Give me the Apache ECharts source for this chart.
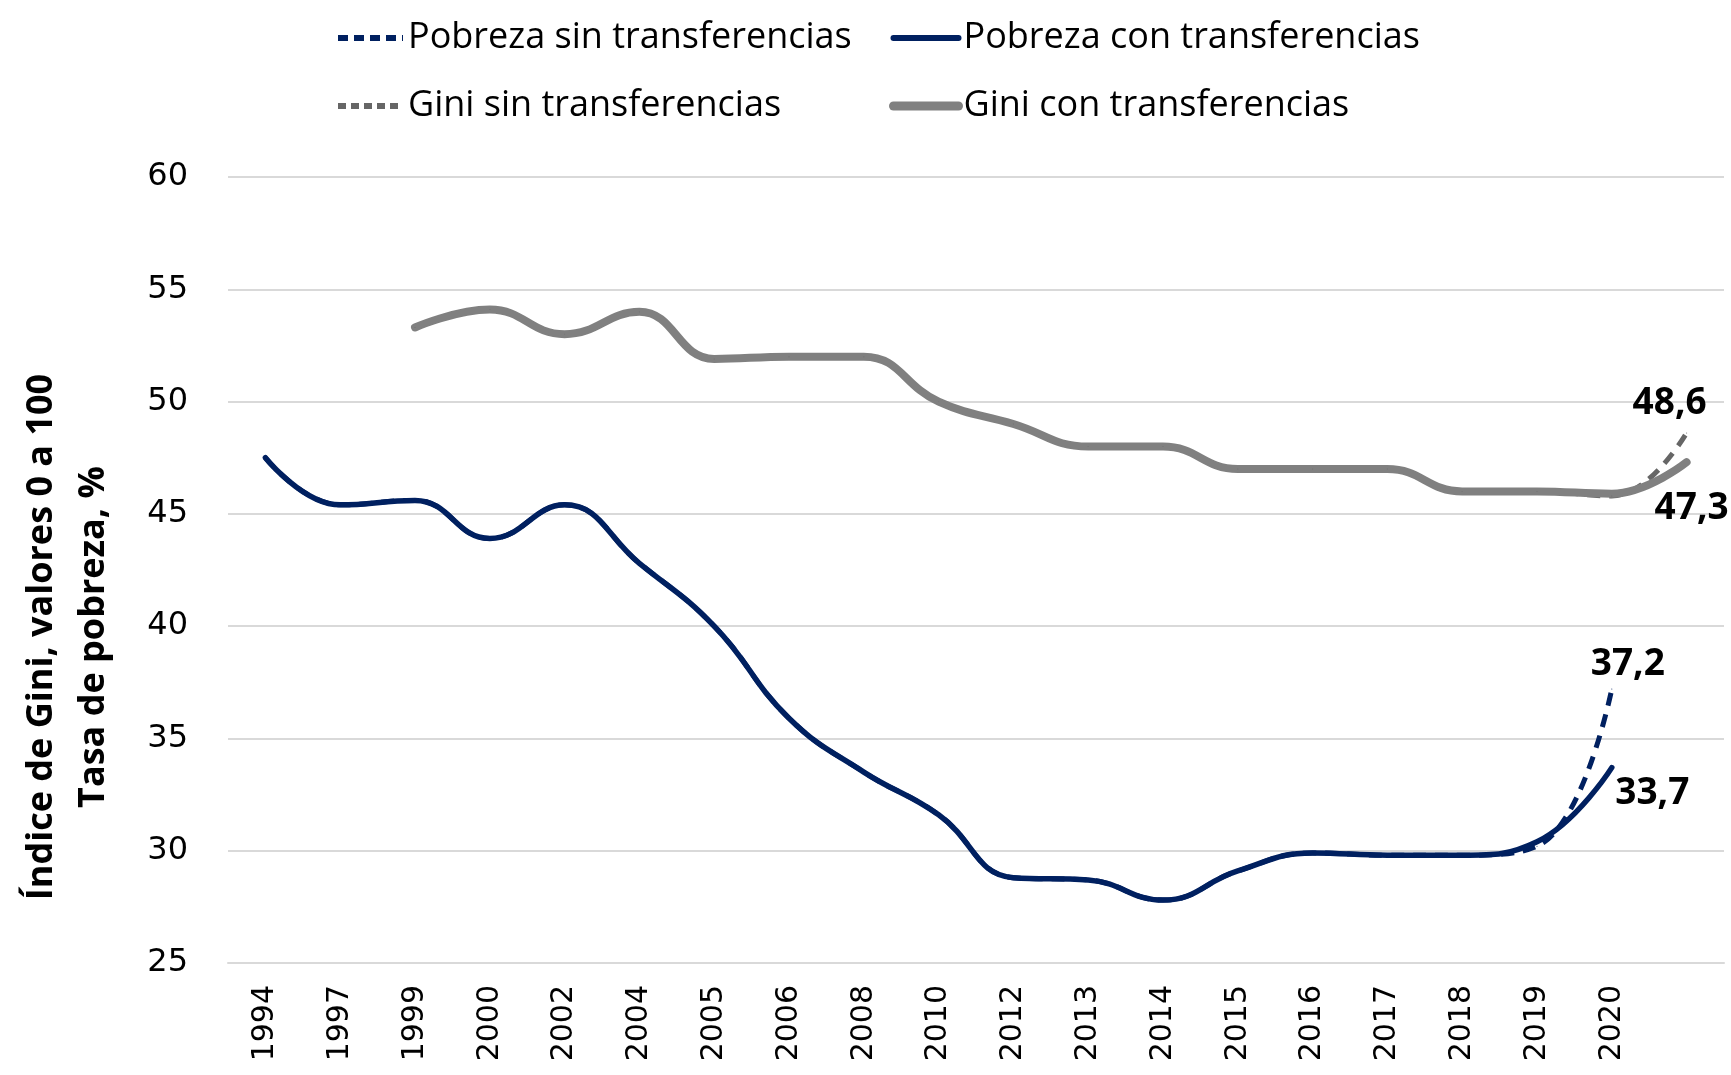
<!DOCTYPE html>
<html>
<head>
<meta charset="utf-8">
<script src="https://cdn.jsdelivr.net/npm/echarts@6/dist/echarts.min.js"></script>
<style>
  html, body { margin: 0; padding: 0; background: #fff; }
  #main { width: 1731px; height: 1075px; }
</style>
</head>
<body>
<div id="main"></div>
<script>
  // categorias del eje x (la ultima sin etiqueta)
  var anios = ['1994', '1997', '1999', '2000', '2002', '2004', '2005', '2006', '2008', '2010',
    '2012', '2013', '2014', '2015', '2016', '2017', '2018', '2019', '2020', ''];

  // tasa de pobreza, %
  var pobrezaCon = [47.5, 45.4, 45.6, 43.9, 45.4, 42.8, 40.0, 35.9, 33.5, 31.6,
    28.8, 28.7, 27.8, 29.1, 29.9, 29.8, 29.8, 30.4, 33.7];
  var pobrezaSin = [47.5, 45.4, 45.6, 43.9, 45.4, 42.8, 40.0, 35.9, 33.5, 31.6,
    28.8, 28.7, 27.8, 29.1, 29.9, 29.8, 29.8, 30.2, 37.2];

  // indice de Gini, 0 a 100
  var giniCon = [null, null, 53.3, 54.1, 53.0, 54.0, 51.9, 52.0, 52.0, 50.0,
    49.0, 48.0, 48.0, 47.0, 47.0, 47.0, 46.0, 46.0, 45.9, 47.3];
  var giniSin = [null, null, 53.3, 54.1, 53.0, 54.0, 51.9, 52.0, 52.0, 50.0,
    49.0, 48.0, 48.0, 47.0, 47.0, 47.0, 46.0, 46.0, 45.8, 48.6];

  var ejeY = { min: 25, max: 60, intervalo: 5 };

  var fuenteCalibri = '"Liberation Sans Narrow", "Open Sans", sans-serif';
  var fuenteEjes = '"DejaVu Sans", Verdana, sans-serif';

  // etiqueta solo en el ultimo punto de cada serie
  function conEtiqueta(valores, pos, offset) {
    var ultimo = valores.length - 1;
    return valores.map(function (v, i) {
      if (i !== ultimo) return v;
      return {
        value: v,
        label: {
          show: true,
          position: pos,
          offset: offset,
          formatter: String(v).replace('.', ','),
          fontFamily: fuenteCalibri,
          fontWeight: 'bold',
          fontSize: 37,
          color: '#000'
        }
      };
    });
  }

  var estiloLeyenda = { fontFamily: fuenteCalibri, fontSize: 36, color: '#000', lineHeight: 42 };

  var myChart = echarts.init(document.getElementById('main'));

  var option = {
    animation: false,
    backgroundColor: '#fff',
    grid: { left: 228, right: 7, top: 177, bottom: 112 },
    legend: [
      {
        orient: 'vertical',
        left: 330,
        top: 12,
        itemWidth: 65,
        itemHeight: 14,
        itemGap: 26,
        itemStyle: { opacity: 0 },
        textStyle: estiloLeyenda,
        data: [
          { name: 'Pobreza sin transferencias', lineStyle: { width: 6, type: [10, 6] } },
          { name: 'Gini sin transferencias', lineStyle: { width: 6, type: [8, 5] } }
        ]
      },
      {
        orient: 'vertical',
        left: 884,
        top: 12,
        itemWidth: 65,
        itemHeight: 14,
        itemGap: 26,
        itemStyle: { opacity: 0 },
        textStyle: estiloLeyenda,
        data: [
          { name: 'Pobreza con transferencias', lineStyle: { width: 6 } },
          { name: 'Gini con transferencias', lineStyle: { width: 9 } }
        ]
      }
    ],
    xAxis: {
      type: 'category',
      data: anios,
      boundaryGap: true,
      axisLine: { lineStyle: { color: '#d9d9d9', width: 2 } },
      axisTick: { show: false },
      axisLabel: {
        rotate: 90,
        interval: 0,
        margin: 22,
        fontFamily: fuenteEjes,
        fontSize: 30,
        color: '#000'
      }
    },
    yAxis: {
      type: 'value',
      min: ejeY.min,
      max: ejeY.max,
      interval: ejeY.intervalo,
      axisLine: { show: false },
      axisTick: { show: false },
      splitLine: { lineStyle: { color: '#d9d9d9', width: 2 } },
      axisLabel: { margin: 40, fontFamily: fuenteEjes, fontSize: 32, color: '#000' }
    },
    graphic: [
      {
        type: 'text',
        x: 68,
        y: 637,
        rotation: Math.PI / 2,
        style: {
          text: 'Índice de Gini, valores 0 a 100\nTasa de pobreza, %',
          fontFamily: fuenteCalibri,
          fontWeight: 'bold',
          fontSize: 36,
          lineHeight: 52,
          fill: '#000',
          align: 'center',
          verticalAlign: 'middle'
        }
      }
    ],
    series: [
      {
        name: 'Pobreza sin transferencias',
        type: 'line',
        smooth: 0.45,
        symbol: 'circle',
        symbolSize: 1,
        data: conEtiqueta(pobrezaSin, 'top', [16, -1]),
        lineStyle: { color: '#002060', width: 5, type: [13, 9] },
        itemStyle: { color: '#002060' }
      },
      {
        name: 'Gini sin transferencias',
        type: 'line',
        smooth: 0.45,
        symbol: 'circle',
        symbolSize: 1,
        data: conEtiqueta(giniSin, 'top', [-17, -6]),
        lineStyle: { color: '#666666', width: 5, type: [13, 9] },
        itemStyle: { color: '#666666' }
      },
      {
        name: 'Pobreza con transferencias',
        type: 'line',
        smooth: 0.45,
        symbol: 'circle',
        symbolSize: 1,
        data: conEtiqueta(pobrezaCon, 'right', [-2, 26]),
        lineStyle: { color: '#002060', width: 5.5, cap: 'round' },
        itemStyle: { color: '#002060' }
      },
      {
        name: 'Gini con transferencias',
        type: 'line',
        smooth: 0.45,
        symbol: 'circle',
        symbolSize: 1,
        data: conEtiqueta(giniCon, 'bottom', [5, 22]),
        lineStyle: { color: '#808080', width: 8, cap: 'round' },
        itemStyle: { color: '#808080' }
      }
    ]
  };

  myChart.setOption(option);
</script>
</body>
</html>
